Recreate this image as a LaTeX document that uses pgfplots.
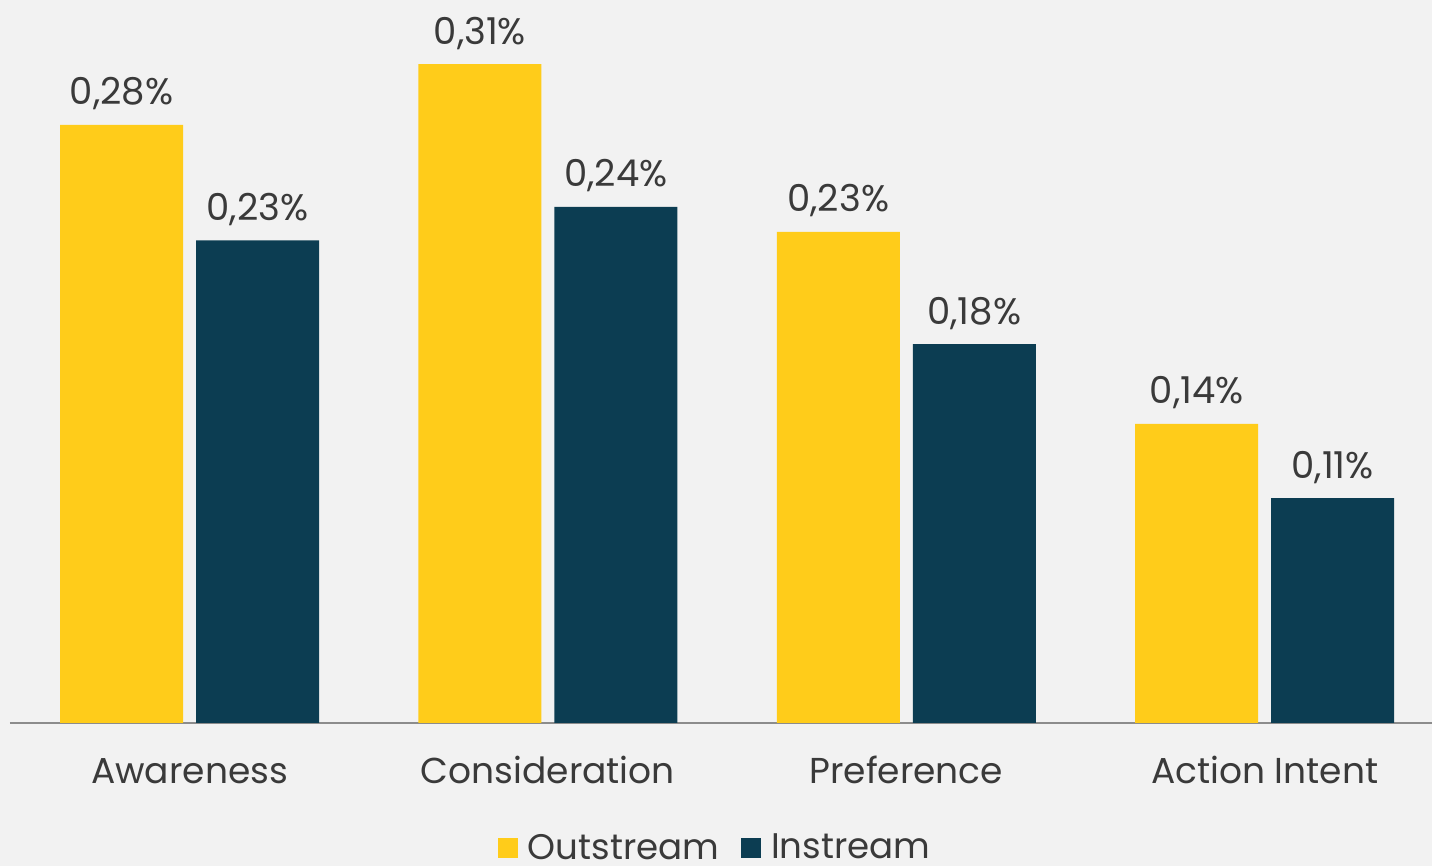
\documentclass[border=0pt]{standalone}
\usepackage{pgfplots}
\pgfplotsset{compat=1.18}
\usepackage{fontspec}
\setmainfont{Poppins}
\definecolor{bgc}{HTML}{F2F2F2}
\definecolor{yel}{HTML}{FFCC1A}
\definecolor{navy}{HTML}{0C3D52}
\definecolor{txt}{HTML}{3A3A3A}
\definecolor{axc}{HTML}{8C8C8C}
\begin{document}
\begin{tikzpicture}
\path[use as bounding box, fill=bgc] (-5pt,-71.5pt) rectangle (711pt,361.5pt);
\begin{axis}[
  at={(0pt,0pt)}, anchor=south west,
  scale only axis, width=711pt, height=361.5pt,
  xmin=-0.501, xmax=3.467, ymin=0, ymax=0.3385,
  ybar=6.5pt, bar width=61.5pt,
  axis y line=none,
  axis x line=bottom,
  x axis line style={-, draw=axc, line width=0.8pt},
  xtick={0,1,2,3},
  xticklabels={Awareness,Consideration,Preference,Action Intent},
  major tick length=0pt,
  xticklabel style={anchor=base, yshift=-30.5pt, text=txt, font=\fontsize{18}{22}\selectfont},
  /pgf/number format/assume math mode=true,
  point meta=explicit,
  nodes near coords={\pgfmathprintnumber[fixed,fixed zerofill,precision=2,use comma]{\pgfplotspointmeta}\%},
  every node near coord/.append style={text=txt, font=\fontsize{18.5}{22}\selectfont, anchor=base, yshift=10pt},
  clip=false,
  legend columns=2,
  legend style={draw=none, fill=none, at={(0.4965,-0.173)}, anchor=center,
    font=\fontsize{17.8}{22}\selectfont, text=txt,
    /tikz/every even column/.append style={column sep=9pt}},
  legend image code/.code={\fill[#1] (0pt,-5pt) rectangle (10pt,5pt); \path (13pt,0pt);},
]
\addplot[fill=yel, draw=none] coordinates {(0,0.280)[0.28] (1,0.3085)[0.31] (2,0.2299)[0.23] (3,0.140)[0.14]};
\addlegendentry{Outstream}
\addplot[fill=navy, draw=none] coordinates {(0,0.226)[0.23] (1,0.2416)[0.24] (2,0.1774)[0.18] (3,0.1053)[0.11]};
\addlegendentry{Instream}
\end{axis}
\end{tikzpicture}
\end{document}
